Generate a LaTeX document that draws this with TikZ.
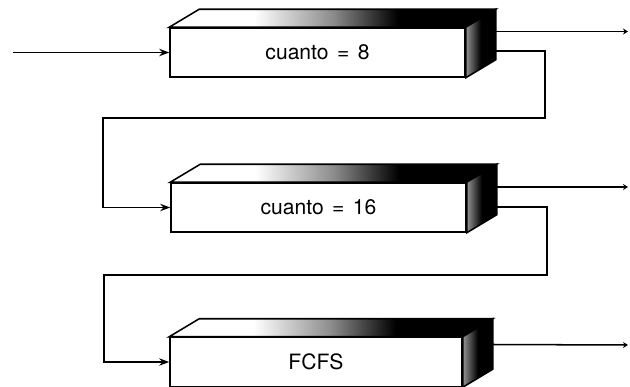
\documentclass[tikz,border=0pt]{standalone}
\usepackage{fontspec}
\setsansfont{TeX Gyre Heros}
\usepackage{tikz}
\usetikzlibrary{arrows.meta, positioning}

\pgfdeclarehorizontalshading{topface}{100bp}{color(0bp)=(white); color(38bp)=(white); color(50bp)=(black!45); color(60bp)=(black); color(100bp)=(black)}
\pgfdeclarehorizontalshading{sideface}{100bp}{color(0bp)=(white); color(22bp)=(black!35); color(50bp)=(black); color(100bp)=(black)}

\begin{document}
\begin{tikzpicture}[
    x=0.03cm, y=-0.03cm,
    front/.style={draw, line width=1.3pt, fill=white, rectangle, minimum width=8.85cm, minimum height=1.47cm, font={\sffamily\fontsize{18}{22}\selectfont\spaceskip=0.4em}},
    face/.style={draw, line width=1.3pt},
    arrow/.style={-{Stealth[length=3mm, width=2.2mm]}, line width=1.3pt},
    outarrow/.style={-{Stealth[length=1.5mm, width=1.8mm]}, line width=1.3pt}
]
    \useasboundingbox (0,0) rectangle (630,387);

    % queues
    \node[front] (q1) at (317.5,52.5) {cuanto = 8};
    \node[front] (q2) at (318.5,207.5) {cuanto = 16};
    \node[front, minimum width=8.76cm] (q3) at (316,362) {FCFS};

    % top and side faces
    \shadedraw[face, shading=topface] (q1.north west) -- ++(30,-18) -- ([shift={(30,-18)}]q1.north east) -- (q1.north east) -- cycle;
    \shadedraw[face, shading=sideface] (q1.north east) -- ++(30,-18) -- ([shift={(30,-18)}]q1.south east) -- (q1.south east) -- cycle;
    \shadedraw[face, shading=topface] (q2.north west) -- ++(30,-18) -- ([shift={(30,-18)}]q2.north east) -- (q2.north east) -- cycle;
    \shadedraw[face, shading=sideface] (q2.north east) -- ++(30,-18) -- ([shift={(30,-18)}]q2.south east) -- (q2.south east) -- cycle;
    \shadedraw[face, shading=topface] (q3.north west) -- ++(30,-18) -- ([shift={(30,-18)}]q3.north east) -- (q3.north east) -- cycle;
    \shadedraw[face, shading=sideface] (q3.north east) -- ++(30,-18) -- ([shift={(30,-18)}]q3.south east) -- (q3.south east) -- cycle;

    % exits on the back edges
    \coordinate (q1hi) at ([shift={(30,-21)}]q1.east);
    \coordinate (q1lo) at ([shift={(30,-1.5)}]q1.east);
    \coordinate (q2hi) at ([shift={(30,-20.5)}]q2.east);
    \coordinate (q2lo) at ([shift={(30,-0.5)}]q2.east);
    \coordinate (q3hi) at ([shift={(30,-17.5)}]q3.east);

    % free ends and bends
    \coordinate (in) at (13,52.5);
    \coordinate (done1) at (628,31.5);
    \coordinate (done2) at (628,187);
    \coordinate (done3) at (628,345);
    \coordinate (back1r) at (545,118);
    \coordinate (back1l) at (103,118);
    \coordinate (back2r) at (547,275);
    \coordinate (back2l) at (104,275);

    % Connections
    \draw[arrow] (in) -- (q1.west);
    \draw[outarrow] (q1hi) -- (done1);
    \draw[arrow] (q1lo) -| (back1r) -- (back1l) |- (q2.west);
    \draw[outarrow] (q2hi) -- (done2);
    \draw[arrow] (q2lo) -| (back2r) -- (back2l) |- (q3.west);
    \draw[outarrow] (q3hi) -- (done3);
\end{tikzpicture}
\end{document}
